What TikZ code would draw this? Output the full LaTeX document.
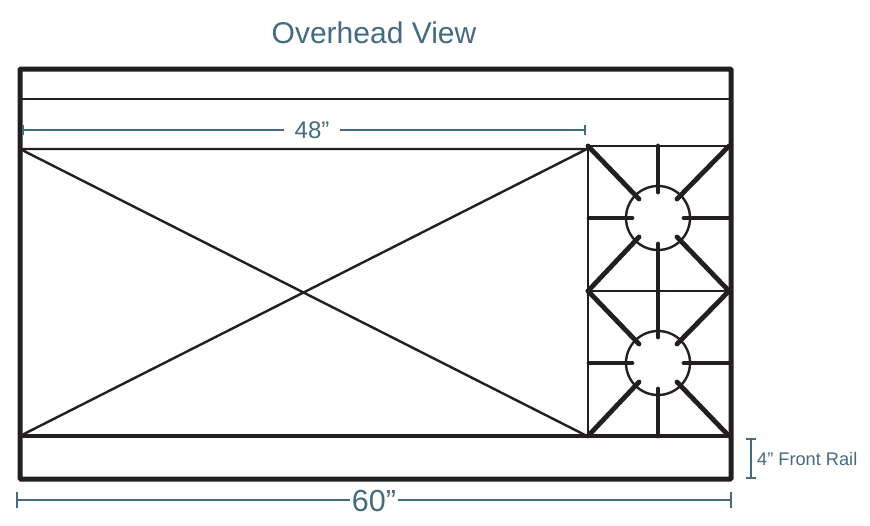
\documentclass[tikz,border=0pt]{standalone}
\usepackage{fontspec}
\setmainfont{Liberation Sans}
\usepackage{tikz}
\usetikzlibrary{arrows.meta,calc}

\definecolor{dimblue}{HTML}{456B80}
\definecolor{ink}{HTML}{231F20}

\tikzset{
  thick line/.style={ink,line width=5pt},
  thin line/.style={ink,line width=2.4pt},
  spoke/.style={ink,line width=4.8pt,line cap=round},
  dim line/.style={dimblue,line width=2pt},
  dim label/.style={dimblue,inner sep=2pt}
}

\begin{document}
\begin{tikzpicture}[x=1pt,y=-1pt]
  \useasboundingbox (0,0) rectangle (870,525);
  \fill[white] (0,0) rectangle (870,525);

  % griddle
  \coordinate (g-tl) at (20,149);
  \coordinate (g-tr) at (587,149);
  \coordinate (g-bl) at (20,436);
  \coordinate (g-br) at (587,436);
  \draw[thin line] (g-tl) -- (g-br) (g-bl) -- (g-tr) (g-tl) -- (g-tr);
  \draw[ink,line width=4pt] (g-bl) -- (g-br) -- (731,436);
  \draw[thin line] (20,99) -- (731,99);

  % burners
  \foreach \name/\cy/\ct/\cb in {a/218/146/291,b/363/291/436}{
    \coordinate (\name) at (658,\cy);
    \draw[ink,line width=2.4pt] (\name) circle (32);
    \draw[thin line] (588,\ct) -- (729,\ct) (588,\ct) -- (588,\cb);
    \draw[spoke] (588,\ct) -- ($(\name)+(-19,-19)$);
    \draw[spoke] (729,\ct) -- ($(\name)+(19,-19)$);
    \draw[spoke] (588,\cb) -- ($(\name)+(-19,19)$);
    \draw[spoke] (729,\cb) -- ($(\name)+(19,19)$);
    \draw[spoke] (658,\ct) -- ($(\name)+(0,-26)$);
    \draw[spoke] (658,\cb) -- ($(\name)+(0,26)$);
    \draw[spoke] (589,\cy) -- ($(\name)+(-26,0)$);
    \draw[spoke] (729,\cy) -- ($(\name)+(26,0)$);
  }

  % outer frame
  \draw[thick line,rounded corners=1pt] (20,69) rectangle (731,479);

  % labels
  \node[dimblue,inner sep=0pt,font=\fontsize{30}{32}\selectfont] (title) at (374,33) {Overhead View};
  \node[dim label,font=\fontsize{24}{26}\selectfont] (w48) at (312,130) {48”};
  \node[dim label,font=\fontsize{30.5}{32}\selectfont] (w60) at (374,501) {60”};
  \node[dimblue,inner sep=0pt,anchor=west,font=\fontsize{18.2}{20}\selectfont] (rail) at (757,459) {4” Front Rail};

  % dimensions
  \coordinate (w48-l) at (22,130);
  \coordinate (w48-r) at (586,130);
  \coordinate (w60-l) at (16,500);
  \coordinate (w60-r) at (732,500);
  \coordinate (r-t) at (751,438);
  \coordinate (r-b) at (751,479);
  \path[dim line]
    (w48-l) edge[{Bar[width=10pt]}-] ([xshift=-8pt]w48.west |- w48-l)
    (w48-r) edge[{Bar[width=10pt]}-] ([xshift=8pt]w48.east |- w48-r)
    (w60-l) edge[{Bar[width=16pt]}-] (w60.west |- w60-l)
    (w60-r) edge[{Bar[width=16pt]}-] (w60.east |- w60-r)
    (r-t) edge[{Bar[width=10pt]}-{Bar[width=10pt]}] (r-b);
\end{tikzpicture}
\end{document}
